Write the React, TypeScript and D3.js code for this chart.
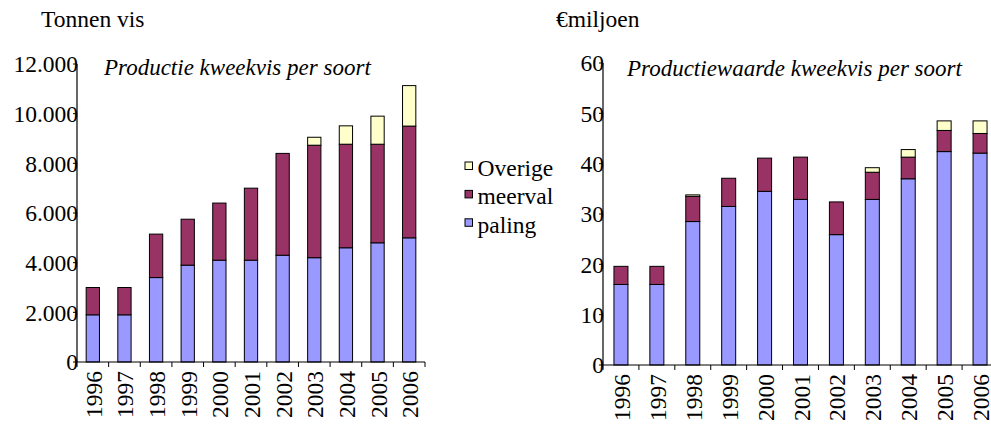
import * as d3 from 'd3';

const years = ['1996', '1997', '1998', '1999', '2000', '2001', '2002', '2003', '2004', '2005', '2006'];
const seriesKeys = ['paling', 'meerval', 'Overige'];
const seriesColors = ['#9999FF', '#993366', '#FFFFCC'];

// Tonnen vis
const tonPaling = [1900, 1900, 3400, 3900, 4100, 4100, 4300, 4200, 4600, 4800, 5000];
const tonMeerval = [1100, 1100, 1750, 1850, 2300, 2900, 4100, 4530, 4170, 3970, 4500];
const tonOverige = [0, 0, 0, 0, 0, 0, 0, 320, 740, 1130, 1630];
const tonTicks = [0, 2000, 4000, 6000, 8000, 10000, 12000];

// € miljoen
const eurPaling = [16.0, 16.0, 28.5, 31.5, 34.5, 32.9, 25.9, 32.9, 37.0, 42.4, 42.1];
const eurMeerval = [3.6, 3.6, 5.0, 5.6, 6.6, 8.4, 6.5, 5.4, 4.3, 4.2, 3.9];
const eurOverige = [0, 0, 0.3, 0, 0, 0, 0, 0.9, 1.5, 1.9, 2.5];
const eurTicks = [0, 10, 20, 30, 40, 50, 60];

const nl = d3.formatLocale({ decimal: ',', thousands: '.', grouping: [3], currency: ['€', ''] });
const fmt = nl.format(',');

const txt = { fontFamily: '"Liberation Serif"' };
const FS = 23.5;

type PanelProps = {
  series: number[][];
  ticks: number[];
  x0: number;
  x1: number;
  yBottom: number;
  yTop: number;
  barRatio: number;
  title: string;
  titleX: number;
  titleY: number;
};

function Panel({ series, ticks, x0, x1, yBottom, yTop, barRatio, title, titleX, titleY }: PanelProps) {
  const rows = years.map((y, i) => {
    const r: Record<string, any> = { year: y };
    seriesKeys.forEach((k, j) => (r[k] = series[j][i]));
    return r;
  });
  const stacked = d3.stack<any>().keys(seriesKeys)(rows);
  const x = d3
    .scaleBand<string>()
    .domain(years)
    .range([x0, x1])
    .paddingInner(1 - barRatio)
    .paddingOuter((1 - barRatio) / 2);
  const y = d3
    .scaleLinear()
    .domain([0, ticks[ticks.length - 1]])
    .range([yBottom, yTop]);
  const step = (x1 - x0) / years.length;
  const bounds = d3.range(years.length + 1).map((i) => x0 + i * step);

  return (
    <g>
      {stacked.map((layer, li) => (
        <g key={seriesKeys[li]}>
          {layer.map((d, i) =>
            d[1] - d[0] > 0 ? (
              <rect
                key={i}
                x={x(years[i])}
                y={y(d[1])}
                width={x.bandwidth()}
                height={y(d[0]) - y(d[1])}
                fill={seriesColors[li]}
                stroke="#000"
                strokeWidth={1}
              />
            ) : null
          )}
        </g>
      ))}
      <line x1={x0} x2={x0} y1={yTop} y2={yBottom} stroke="#000" strokeWidth={1.2} />
      <line x1={x0} x2={x1} y1={yBottom} y2={yBottom} stroke="#000" strokeWidth={1.2} />
      {ticks.map((t) => (
        <g key={t}>
          <line x1={x0 - 4} x2={x0} y1={y(t)} y2={y(t)} stroke="#000" />
          <text x={x0 + 1} y={y(t)} dy="0.36em" textAnchor="end" fontSize={FS} style={txt}>
            {fmt(t)}
          </text>
        </g>
      ))}
      {bounds.map((b, i) => (
        <line key={i} x1={b} x2={b} y1={yBottom} y2={yBottom + 5} stroke="#000" />
      ))}
      {years.map((yr) => (
        <text
          key={yr}
          transform={`translate(${(x(yr) as number) + x.bandwidth() / 2 + 1},${yBottom + 9}) rotate(-90)`}
          dy="0.34em"
          textAnchor="end"
          fontSize={FS}
          style={txt}
        >
          {yr}
        </text>
      ))}
      <text x={titleX} y={titleY} fontSize={FS - 0.5} fontStyle="italic" style={txt}>
        {title}
      </text>
    </g>
  );
}

export default function App() {
  const legendKeys = [2, 1, 0];
  return (
    <svg width={991} height={424} style={{ position: 'absolute', left: 0, top: 0, background: '#fff' }}>
      <rect width={991} height={424} fill="#fff" />
      <text x={41} y={27} fontSize={FS} style={txt}>Tonnen vis</text>
      <text x={556} y={27} fontSize={FS} style={txt}>€miljoen</text>
      <Panel
        series={[tonPaling, tonMeerval, tonOverige]}
        ticks={tonTicks}
        x0={77}
        x1={425}
        yBottom={362}
        yTop={64}
        barRatio={0.42}
        title="Productie kweekvis per soort"
        titleX={104}
        titleY={75}
      />
      <Panel
        series={[eurPaling, eurMeerval, eurOverige]}
        ticks={eurTicks}
        x0={603}
        x1={998}
        yBottom={365}
        yTop={63}
        barRatio={0.39}
        title="Productiewaarde kweekvis per soort"
        titleX={627}
        titleY={76}
      />
      {legendKeys.map((k, i) => (
        <g key={seriesKeys[k]} transform={`translate(465,${162 + i * 28.4})`}>
          <rect width={7.5} height={7.5} fill={seriesColors[k]} stroke="#000" strokeWidth={1} />
          <text x={12.5} y={14} fontSize={FS} style={txt}>
            {seriesKeys[k]}
          </text>
        </g>
      ))}
    </svg>
  );
}
